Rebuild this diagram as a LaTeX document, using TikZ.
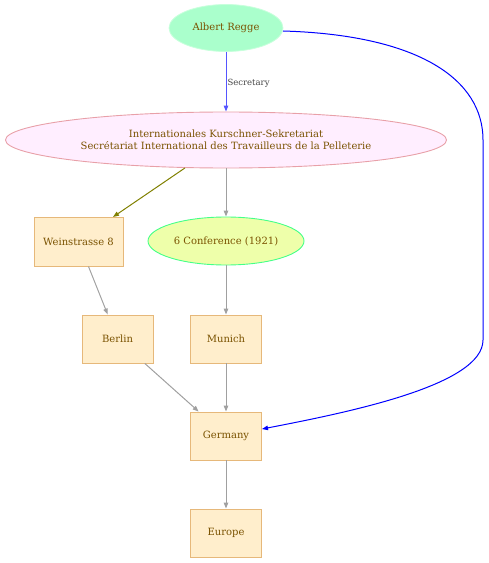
\documentclass[tikz,border=0pt]{standalone}
\usepackage{fontspec}
\setmainfont{DejaVu Serif}
\usetikzlibrary{shapes.geometric,arrows.meta}
\definecolor{txt}{HTML}{7A5200}
\definecolor{boxfill}{HTML}{FFEECC}
\definecolor{boxdraw}{HTML}{E6B87A}
\definecolor{grayedge}{HTML}{A0A0A0}
\definecolor{olive2}{HTML}{808000}
\definecolor{secblue}{HTML}{5555FF}
\definecolor{arfill}{HTML}{AAFFCC}
\definecolor{ardraw}{HTML}{C8FFDC}
\definecolor{iksfill}{HTML}{FFEEFF}
\definecolor{iksdraw}{HTML}{E8A0A8}
\definecolor{conffill}{HTML}{EEFFAA}
\definecolor{confdraw}{HTML}{44FF88}
\definecolor{labgray}{HTML}{444444}
\tikzset{
  base/.style={font=\fontsize{10bp}{12.5bp}\selectfont, text=txt, inner sep=0pt, align=center},
  place/.style={base, rectangle, draw=boxdraw, fill=boxfill, line width=0.9bp},
  tip/.style={-{Triangle[length=6bp,width=4.5bp]}, line width=1bp},
  grayarrow/.style={tip, draw=grayedge},
}
\begin{document}
\begin{tikzpicture}[x=1bp,y=-1bp]
\useasboundingbox (0,0) rectangle (489,563);
\node[base, ellipse, fill=arfill, draw=ardraw, line width=0.8bp, minimum width=114bp, minimum height=47bp] (ar) at (226,28) {Albert Regge};
\node[base, ellipse, fill=iksfill, draw=iksdraw, line width=0.9bp, minimum width=441bp, minimum height=56bp] (iks) at (226,140) {Internationales Kurschner-Sekretariat\\Secrétariat International des Travailleurs de la Pelleterie};
\node[place, minimum width=89bp, minimum height=49bp] (wein) at (78.5,241.5) {Weinstrasse 8};
\node[base, ellipse, fill=conffill, draw=confdraw, line width=0.9bp, minimum width=156bp, minimum height=48bp] (conf) at (226,241) {6 Conference (1921)};
\node[place, minimum width=71bp, minimum height=48bp] (berlin) at (117.5,339) {Berlin};
\node[place, minimum width=71bp, minimum height=48bp] (munich) at (226,339) {Munich};
\node[place, minimum width=71bp, minimum height=48bp] (germany) at (226,436) {Germany};
\node[place, minimum width=71bp, minimum height=48bp] (europe) at (226,533) {Europe};
\coordinate (weintop) at (113,217);
\coordinate (arout) at (283,31);
\coordinate (r1) at (483,140);
\coordinate (r2) at (483,340);
\coordinate (gin) at (262,429);

\draw[tip, draw=secblue] (ar) -- node[right, inner sep=1bp, yshift=-1.5bp, font=\fontsize{8.5bp}{10bp}\selectfont, text=labgray] {Secretary} (iks);
\draw[tip, draw=olive2] (iks) -- (weintop);
\draw[grayarrow] (iks) -- (conf);
\draw[grayarrow] (conf) -- (munich);
\draw[grayarrow] (wein) -- (berlin);
\draw[grayarrow] (berlin) -- (germany);
\draw[grayarrow] (munich) -- (germany);
\draw[grayarrow] (germany) -- (europe);
\draw[tip, draw=blue] (arout) .. controls (420,35) and (483,80) .. (r1) -- (r2) .. controls (483,385) and (350,412) .. (gin);
\end{tikzpicture}
\end{document}
